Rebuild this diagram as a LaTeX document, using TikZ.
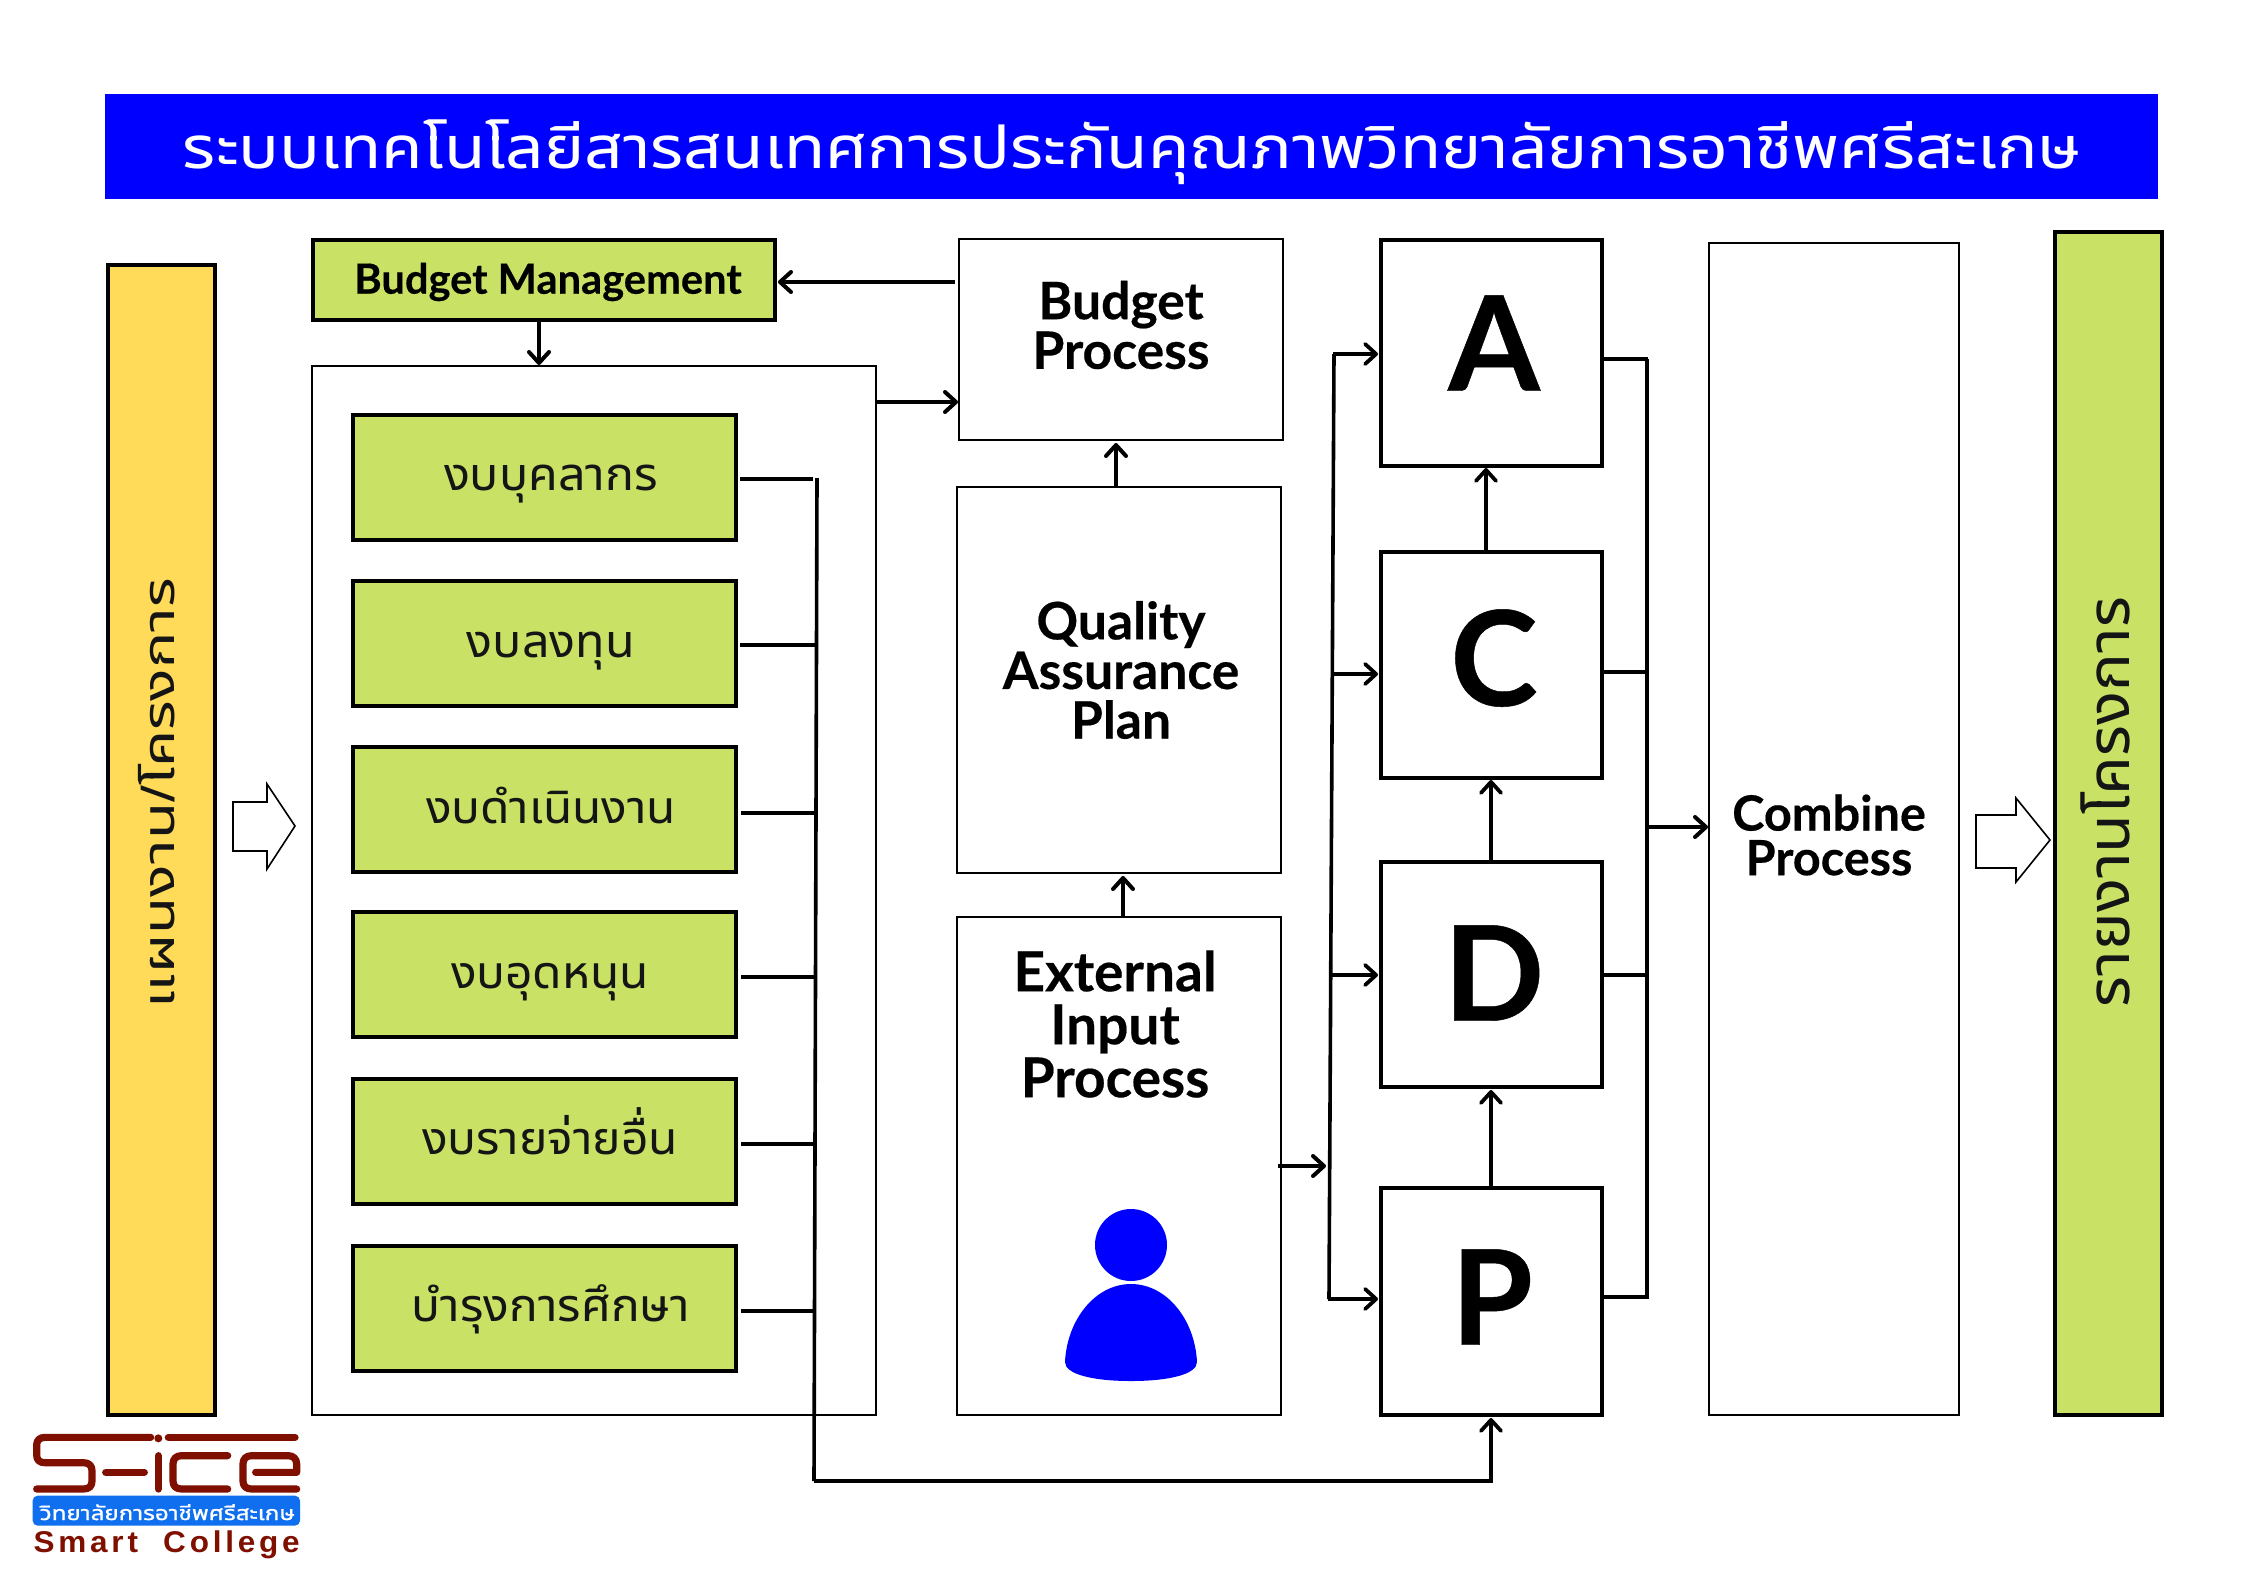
\documentclass[tikz,border=0pt]{standalone}
\usepackage{fontspec}
\usepackage{graphicx}
\usetikzlibrary{arrows.meta}
\setmainfont{Lato}
\newfontfamily\thaifont[Script=Thai]{Noto Sans Thai UI}
\newfontfamily\logofont{Liberation Sans}
\definecolor{gbox}{HTML}{C9E265}
\definecolor{ybox}{HTML}{FFDB59}
\definecolor{tblue}{HTML}{0000FF}
\definecolor{lblue}{HTML}{0F6FEF}
\definecolor{lred}{HTML}{7F1000}
\definecolor{tdark}{HTML}{151515}
\newcommand{\bx}[6]{\node[#2,minimum width={(#5-#3)*0.5pt},minimum height={(#6-#4)*0.5pt}] (#1) at ({(#3+#5)/2},{(#4+#6)/2}) {};}
\newcommand{\heavy}{\bfseries\addfontfeature{FakeBold=0.35}}
\tikzset{
 x=0.5pt,y=-0.5pt,
 anybox/.style={rectangle,inner sep=0pt,outer sep=0pt},
 greenbox/.style={anybox,draw=black,line width=2pt,fill=gbox},
 yellowbox/.style={anybox,draw=black,line width=2pt,fill=ybox},
 thinbox/.style={anybox,draw=black,line width=1pt,fill=white},
 pdcabox/.style={anybox,draw=black,line width=1.7pt,fill=white},
 arr/.style={line width=2.2pt,-{Straight Barb[length=5.5pt,width=10pt,line width=2pt,round]}},
 arrthin/.style={line width=1.8pt,-{Straight Barb[length=5.5pt,width=10pt,line width=1.9pt,round]}},
 bus/.style={line width=1.8pt},
 stub/.style={line width=2pt},
 hollow/.style={draw=black,line width=.8pt,fill=white,line join=miter},
 thlabel/.style={font=\thaifont\fontsize{19}{19}\selectfont,text=tdark,inner sep=0pt,anchor=base},
 proclabel/.style={font=\fontsize{25.8}{25.8}\selectfont\heavy,align=center,inner sep=0pt},
 pdca/.style={font=\fontsize{66}{66}\selectfont\heavy,inner sep=0pt},
 logostroke/.style={draw=lred,line width=3.6pt,line cap=round,line join=round},
}
\begin{document}
\begin{tikzpicture}
\useasboundingbox (0,0) rectangle (2267,1587);
\fill[white] (0,0) rectangle (2267,1587);
% title
\bx{title}{anybox,fill=tblue}{105}{94}{2158}{199}
\node[font=\thaifont\fontsize{31}{31}\selectfont,text=white,inner sep=0pt,anchor=base] (titletext) at (1132,168) {\resizebox{949pt}{\height}{ระบบเทคโนโลยีสารสนเทศการประกันคุณภาพวิทยาลัยการอาชีพศรีสะเกษ}};
% side bars
\bx{plan}{yellowbox}{108}{265}{215}{1415}
\node[thlabel,rotate=90,font=\thaifont\fontsize{23}{23}\selectfont] (plantext) at (174,793) {\resizebox{215pt}{\height}{แผนงาน{\logofont /}โครงการ}};
\bx{report}{greenbox}{2055}{232}{2162}{1415}
\node[thlabel,rotate=90,font=\thaifont\fontsize{31}{31}\selectfont] (reporttext) at (2129,802) {\resizebox{205pt}{\height}{รายงานโครงการ}};
% budget
\bx{mgmt}{greenbox}{313}{240}{775}{320}
\node[font=\fontsize{20.8}{20.8}\selectfont\heavy,inner sep=0pt] (mgmttext) at (548,282) {Budget Management};
\bx{budgets}{thinbox}{312}{366}{876}{1415}
\bx{g1}{greenbox}{353}{415}{736}{540}
\bx{g2}{greenbox}{353}{581}{736}{706}
\bx{g3}{greenbox}{353}{747}{736}{872}
\bx{g4}{greenbox}{353}{912}{736}{1037}
\bx{g5}{greenbox}{353}{1079}{736}{1204}
\bx{g6}{greenbox}{353}{1246}{736}{1371}
\node[thlabel] (t1) at (551,490) {\resizebox{107pt}{!}{งบบุคลากร}};
\node[thlabel] (t2) at (551,657) {\resizebox{84pt}{!}{งบลงทุน}};
\node[thlabel] (t3) at (551,823) {\resizebox{125pt}{!}{งบดำเนินงาน}};
\node[thlabel] (t4) at (550,988) {\resizebox{99pt}{!}{งบอุดหนุน}};
\node[thlabel] (t5) at (550,1154) {\resizebox{128pt}{!}{งบรายจ่ายอื่น}};
\node[thlabel] (t6) at (551,1321) {\resizebox{139pt}{!}{บำรุงการศึกษา}};
% process boxes
\bx{bproc}{thinbox}{959}{239}{1283}{440}
\node[proclabel] (bproctext) at (1121,325) {Budget\\[-1pt]Process};
\bx{qa}{thinbox}{957}{487}{1281}{873}
\node[proclabel] (qatext) at (1121,670) {Quality\\[-1pt]Assurance\\[-1pt]Plan};
\bx{ext}{thinbox}{957}{917}{1281}{1415}
\node[proclabel,font=\fontsize{27.5}{27.5}\selectfont\heavy] (exttext) at (1115,1024) {External\\[-1pt]Input\\[-1pt]Process};
\bx{combine}{thinbox}{1709}{243}{1959}{1415}
\node[proclabel,font=\fontsize{24.3}{24.3}\selectfont\heavy] (combtext) at (1829,835) {Combine\\[-2pt]Process};
% PDCA
\bx{A}{pdcabox}{1381}{240}{1602}{466}
\bx{C}{pdcabox}{1381}{552}{1602}{778}
\bx{D}{pdcabox}{1381}{862}{1602}{1087}
\bx{P}{pdcabox}{1381}{1188}{1602}{1415}
\node[pdca] (At) at (1494,343) {A};
\node[pdca] (Ct) at (1494,658) {C};
\node[pdca] (Dt) at (1494,973) {D};
\node[pdca] (Pt) at (1492,1297) {P};
% person
\fill[tblue] (1131,1245) circle[radius=36];
\fill[tblue] (1065,1362) .. controls (1067,1320) and (1095,1284) .. (1131,1284) .. controls (1167,1284) and (1195,1320) .. (1197,1362) .. controls (1197,1374) and (1170,1381) .. (1131,1381) .. controls (1092,1381) and (1065,1374) .. (1065,1362) -- cycle;
% hollow arrows
\draw[hollow] (233,802) -- (267,802) -- (267,784) -- (295,826) -- (267,869) -- (267,851) -- (233,851) -- cycle;
\draw[hollow] (1976,815) -- (2016,815) -- (2016,798) -- (2050,840) -- (2016,882) -- (2016,868) -- (1976,868) -- cycle;
% connectors: budget
\coordinate (bprocL) at (955,282);
\coordinate (mgmtR) at (778,282);
\draw[arr] (bprocL) -- (mgmtR);
\coordinate (mgmtB) at (539,321);
\coordinate (budT) at (539,365);
\draw[arr] (mgmtB) -- (budT);
\coordinate (budR) at (877,402);
\coordinate (bprocIn) at (958,402);
\draw[arr] (budR) -- (bprocIn);
\coordinate (qaOut) at (1116,486);
\coordinate (bprocIn2) at (1116,443);
\draw[arr] (qaOut) -- (bprocIn2);
\coordinate (extOut) at (1123,916);
\coordinate (qaIn) at (1123,876);
\draw[arr] (extOut) -- (qaIn);
% PDCA upward
\coordinate (cOut) at (1486,551);
\coordinate (aIn) at (1486,468);
\draw[arrthin] (cOut) -- (aIn);
\coordinate (dOut) at (1491,861);
\coordinate (cIn) at (1491,780);
\draw[arrthin] (dOut) -- (cIn);
\coordinate (pOut) at (1491,1187);
\coordinate (dIn) at (1491,1090);
\draw[arrthin] (pOut) -- (dIn);
% green stubs & bus
\coordinate (busTop) at (817,478);
\coordinate (busBot) at (814,1481);
\draw[stub] (740,479) -- (813,479);
\draw[stub] (740,645) -- (816,645);
\draw[stub] (741,813) -- (815.5,813);
\draw[stub] (741,977) -- (815,977);
\draw[stub] (741,1144) -- (814.5,1144);
\draw[stub] (741,1311) -- (814,1311);
\draw[bus] (busTop) -- (busBot);
\coordinate (pIn) at (1491,1418);
\draw[arrthin,line join=miter] (busBot) -- (1491,1481) -- (pIn);
% external to left bus
\coordinate (extR) at (1278,1166);
\coordinate (lbusIn) at (1326,1166);
\draw[arr] (extR) -- (lbusIn);
\coordinate (lbusT) at (1334,354);
\coordinate (lbusB) at (1329,1299);
\draw[bus] (lbusT) -- (lbusB);
\draw[arrthin] (1333,354) -- (1378,354);
\draw[arrthin] (1332,674) -- (1378,674);
\draw[arrthin] (1331,975) -- (1378,975);
\draw[arrthin] (1328,1299) -- (1378,1299);
% right bus
\coordinate (rA) at (1647,359);
\coordinate (rP) at (1647,1297);
\draw[bus] (rA) -- (rP);
\draw[stub] (1603,359) -- (1648,359);
\draw[stub] (1603,672) -- (1648,672);
\draw[stub] (1603,975) -- (1648,975);
\draw[stub] (1603,1297) -- (1649,1297);
\coordinate (rOut) at (1647,827);
\coordinate (combIn) at (1708,827);
\draw[arr] (rOut) -- (combIn);
% logo
\begin{scope}[shift={(0,1400)},x=0.16667pt,y=-0.16667pt]
\draw[logostroke] (452,112) -- (135,112) .. controls (118,112) and (110,122) .. (110,135) -- (110,165) .. controls (110,180) and (118,188) .. (135,188) -- (250,188) .. controls (268,188) and (276,198) .. (276,212) -- (276,243) .. controls (276,258) and (268,267) .. (250,267) -- (110,267);
\draw[logostroke] (317,217) -- (433,217);
\fill[lred] (475,115) circle[radius=12];
\draw[logostroke] (475,167) -- (475,267);
\draw[logostroke] (505,112) -- (885,112);
\draw[logostroke] (683,167) -- (545,167) .. controls (528,167) and (519,177) .. (519,192) -- (519,243) .. controls (519,258) and (528,267) .. (545,267) -- (683,267);
\draw[logostroke] (767,217) -- (890,217) -- (890,192) .. controls (890,177) and (880,167) .. (865,167) -- (755,167) .. controls (738,167) and (729,177) .. (729,192) -- (729,243) .. controls (729,258) and (738,267) .. (755,267) -- (890,267);
\fill[lblue,rounded corners=2.5pt] (98,287) rectangle (900,377);
\node[font=\thaifont\fontsize{10.5}{10.5}\selectfont\addfontfeature{FakeBold=0.8},text=white,inner sep=0pt,anchor=base] (logothai) at (502,360) {\resizebox{127.5pt}{\height}{วิทยาลัยการอาชีพศรีสะเกษ}};
\node[font=\logofont\fontsize{15}{15}\selectfont\bfseries\addfontfeature{LetterSpace=12},text=lred,inner sep=0pt,anchor=base] (logoen) at (500,458) {\resizebox{133pt}{\height}{Smart\hspace{0.8em}College}};
\end{scope}
\end{tikzpicture}
\end{document}
